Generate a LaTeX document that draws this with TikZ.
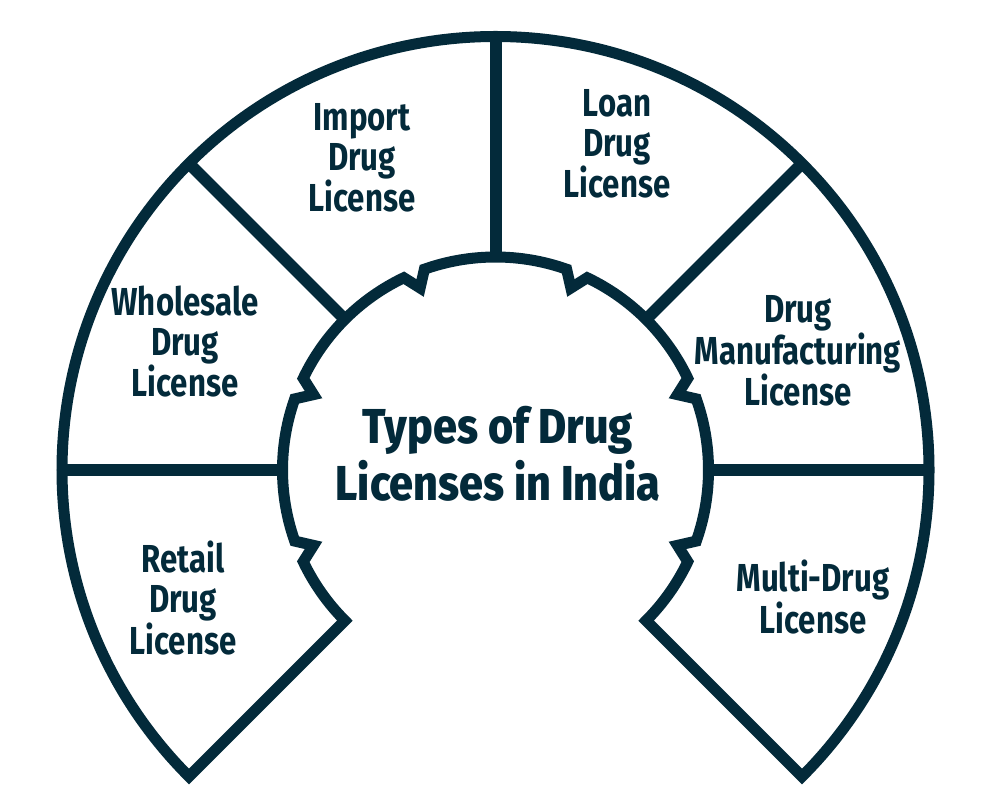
\documentclass[tikz,border=0pt]{standalone}
\usepackage{fontspec}
\newfontfamily\labelfont{Fira Sans}[FakeStretch=0.8]
\newfontfamily\titlefont{Fira Sans ExtraBold}[FakeStretch=0.88]
\definecolor{navy}{RGB}{3,42,58}
\tikzset{
  outline/.style={draw=navy, line width=11pt, line join=miter, miter limit=20},
  divider/.style={draw=navy, line width=12pt},
  lbl/.style={text=navy, align=center, inner sep=0pt, font={\labelfont\bfseries\fontsize{39}{40}\selectfont}},
  ttl/.style={text=navy, align=center, inner sep=0pt, font={\titlefont\fontsize{49}{57}\selectfont}}
}
\begin{document}
\begin{tikzpicture}[x=1pt,y=1pt]
\useasboundingbox[fill=white] (0,0) rectangle (1000,800);
\coordinate (C) at (495.5,330);
\begin{scope}[shift={(C)}]
  \draw[outline] (225:433.5pt) arc[start angle=225, end angle=-45, radius=433.5pt]
    -- (-45:213pt) arc[start angle=-45, end angle=-25.5, radius=213pt]
    -- (-22.5:197pt) -- (-19.5:213pt) arc[start angle=-19.5, end angle=19.5, radius=213pt]
    -- (22.5:197pt) -- (25.5:213pt) arc[start angle=25.5, end angle=64.5, radius=213pt]
    -- (67.5:197pt) -- (70.5:213pt) arc[start angle=70.5, end angle=109.5, radius=213pt]
    -- (112.5:197pt) -- (115.5:213pt) arc[start angle=115.5, end angle=154.5, radius=213pt]
    -- (157.5:197pt) -- (160.5:213pt) arc[start angle=160.5, end angle=199.5, radius=213pt]
    -- (202.5:197pt) -- (205.5:213pt) arc[start angle=205.5, end angle=225, radius=213pt]
    -- cycle;
  \foreach \a in {0,45,90,135,180}
    \draw[divider] (\a:213pt) -- (\a:433.5pt);
\end{scope}
\node[ttl] (title) at (498,346) {Types of Drug\\Licenses in India};
\node[lbl] (import) at (362,642.5) {Import\\Drug\\License};
\node[lbl] (loan) at (617,656.5) {Loan\\Drug\\License};
\node[lbl] (wholesale) at (185,458.5) {Wholesale\\Drug\\License};
\node[lbl] (manuf) at (798,449) {Drug\\Manufacturing\\License};
\node[lbl] (retail) at (183,202) {Retail\\Drug\\License};
\node[lbl] (multi) at (813,203) {Multi-Drug\\License};
\end{tikzpicture}
\end{document}
